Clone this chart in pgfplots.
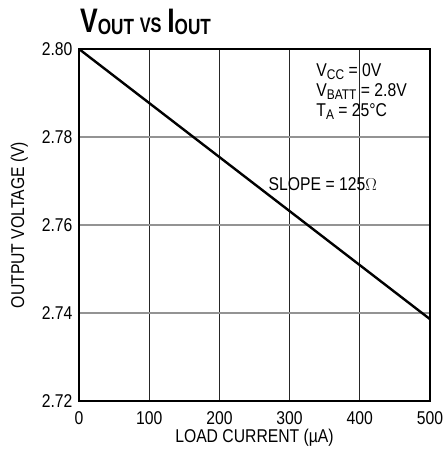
\documentclass[border=0pt]{standalone}
\usepackage{fontspec}
\setmainfont[FakeStretch=0.85]{Liberation Sans}
\newfontfamily\titlefont[FakeStretch=0.78]{Liberation Sans Bold}
\usepackage{pgfplots}
\pgfplotsset{compat=1.18}
\newcommand\sub[1]{\raisebox{-3pt}{\fontsize{14}{14}\selectfont #1}}
\begin{document}
\begin{tikzpicture}
\useasboundingbox (-79pt,-61pt) rectangle (365pt,401pt);
\begin{axis}[
  at={(0,0)}, anchor=south west,
  width=351pt, height=352pt, scale only axis,
  xmin=0, xmax=500, ymin=2.72, ymax=2.80,
  xtick={0,100,...,500}, ytick={2.72,2.74,...,2.80},
  /pgf/number format/assume math mode=true,
  yticklabel style={/pgf/number format/fixed,/pgf/number format/fixed zerofill,/pgf/number format/precision=2},
  ticklabel style={font=\fontsize{18.5}{18.5}\selectfont},
  xticklabel style={yshift=-7pt},
  yticklabel style={xshift=-3pt},
  label style={font=\fontsize{18.5}{19}\selectfont},
  grid=major,
  x grid style={black!85, line width=0.9pt},
  y grid style={gray!85, line width=1.2pt},
  axis line style={line width=1.6pt},
  tick style={draw=none},
  xlabel={LOAD CURRENT (\textmu A)}, ylabel={OUTPUT VOLTAGE (V)},
  xlabel style={yshift=2pt}, ylabel style={yshift=7pt},
  clip=false,
]
\addplot[black, line width=2.4pt] coordinates {(0,2.80) (500,2.7386)};
\node[anchor=north west, align=left, font=\fontsize{18.5}{20}\selectfont, inner sep=0pt] at (axis cs:338,2.7968)
 {V\sub{CC} = 0V\\ V\sub{BATT} = 2.8V\\ T\sub{A} = 25°C};
\node[anchor=west, font=\fontsize{18.5}{19}\selectfont, inner sep=0pt] at (axis cs:270,2.7693) {SLOPE = 125$\Omega$};
\end{axis}
\node[anchor=base west, inner sep=0pt] at (1pt,368pt)
 {\titlefont\fontsize{34}{34}\selectfont V\raisebox{-2pt}{\fontsize{22}{22}\selectfont OUT}\,{\fontsize{21}{21}\selectfont VS}\,I\raisebox{-2pt}{\fontsize{22}{22}\selectfont OUT}};
\end{tikzpicture}
\end{document}
